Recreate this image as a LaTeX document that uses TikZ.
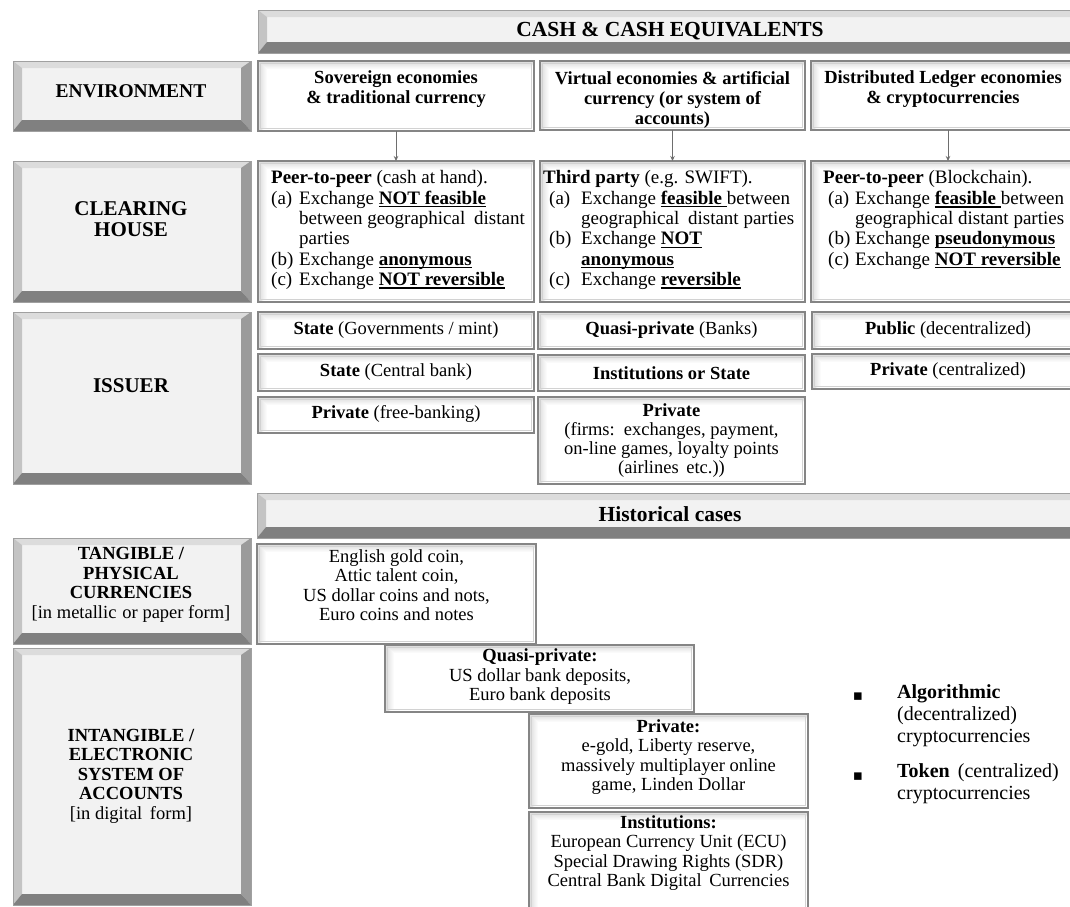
\documentclass[tikz,border=0pt]{standalone}
\usepackage{fontspec}
\setmainfont{Liberation Serif}
\newfontfamily\symfont{DejaVu Sans}
\usetikzlibrary{arrows.meta}
\definecolor{bface}{HTML}{F2F2F2}
\definecolor{bline}{HTML}{A0A0A0}
\definecolor{btop}{HTML}{DCDCDC}
\definecolor{bleft}{HTML}{C4C4C4}
\definecolor{bright}{HTML}{9B9B9B}
\definecolor{bbot}{HTML}{808080}
\definecolor{wline}{HTML}{858585}
\definecolor{wsh}{HTML}{DADADA}
\definecolor{arrgray}{HTML}{6E6E6E}
\newcommand\fcash{\fontsize{21.5pt}{21pt}\selectfont\bfseries}
\newcommand\fenv{\fontsize{19.5pt}{21pt}\selectfont\bfseries}
\newcommand\fttl{\fontsize{21pt}{21.5pt}\selectfont\bfseries}
\newcommand\fside{\fontsize{18.5pt}{19.5pt}\selectfont\bfseries\lineskiplimit=-100pt\lineskip=0pt}
\newcommand\fhead{\fontsize{18.5pt}{20pt}\selectfont\bfseries\lineskiplimit=-100pt\lineskip=0pt}
\newcommand\fch{\fontsize{19pt}{20.3pt}\selectfont\lineskiplimit=-100pt\lineskip=0pt}
\newcommand\fbody{\fontsize{18.5pt}{19.5pt}\selectfont\lineskiplimit=-100pt\lineskip=0pt}
\newcommand\ffirm{\fontsize{18.5pt}{19pt}\selectfont\lineskiplimit=-100pt\lineskip=0pt}
\newcommand\fbul{\fontsize{20pt}{22pt}\selectfont\lineskiplimit=-100pt\lineskip=0pt}
\newcommand\bul[1]{\setbox0\hbox{\textbf{#1}}\rlap{\rule[-3.3pt]{\wd0}{1.4pt}}\box0}
\newcommand\lab[3][0pt]{\hspace*{#1}\makebox[#2][l]{#3}}
\newcommand\hng[1]{\hspace*{#1}}
\newcommand\bx[6][]{\node[#1, minimum width={(#4-#2)*1pt}, minimum height={(#5-#3)*1pt}] (#6) at ({(#2+#4)/2},{(#3+#5)/2}) {};}
\tikzset{
  gbev/.style={inner sep=0pt, outer sep=0pt, fill=bface, draw=bline, line width=0.8pt,
    path picture={
      \path (path picture bounding box.north west) coordinate (pa)
            (path picture bounding box.north east) coordinate (pb)
            (path picture bounding box.south east) coordinate (pc)
            (path picture bounding box.south west) coordinate (pd);
      \fill[btop] (pa) -- (pb) -- ([shift={(-10pt,-7pt)}]pb) -- ([shift={(9pt,-7pt)}]pa) -- cycle;
      \fill[bleft] (pa) -- ([shift={(9pt,-7pt)}]pa) -- ([shift={(9pt,11pt)}]pd) -- (pd) -- cycle;
      \fill[bright] (pb) -- (pc) -- ([shift={(-10pt,11pt)}]pc) -- ([shift={(-10pt,-7pt)}]pb) -- cycle;
      \fill[bbot] (pd) -- (pc) -- ([shift={(-10pt,11pt)}]pc) -- ([shift={(9pt,11pt)}]pd) -- cycle;
    }},
  wbox/.style={inner sep=0pt, outer sep=0pt, fill=white, draw=wline, line width=1.5pt,
    path picture={
      \path (path picture bounding box.north west) coordinate (pa)
            (path picture bounding box.north east) coordinate (pb)
            (path picture bounding box.south east) coordinate (pc)
            (path picture bounding box.south west) coordinate (pd);
      \shade[top color=wsh, bottom color=white] (pa) -- (pb) -- ([shift={(-3pt,-8pt)}]pb) -- ([shift={(9pt,-8pt)}]pa) -- cycle;
      \shade[left color=wsh, right color=white] (pa) -- ([shift={(9pt,-8pt)}]pa) -- ([shift={(9pt,3pt)}]pd) -- (pd) -- cycle;
      \draw[gray!35, line width=0.6pt] ([shift={(2.3pt,-2.3pt)}]pa) rectangle ([shift={(-2.3pt,2.3pt)}]pc);
    }},
  arr/.style={draw=arrgray, line width=1pt, -{Stealth[length=5pt,width=4.5pt]}},
  ttl/.style={inner sep=0pt, align=center, font=\fttl},
  side/.style={inner sep=0pt, align=center, font=\fside},
  hd/.style={inner sep=0pt, align=center, font=\fhead},
  cht/.style={inner sep=0pt, align=left, font=\fch, anchor=west},
  it/.style={inner sep=0pt, align=center, font=\fbody},
  bt/.style={inner sep=0pt, align=left, font=\fbul, anchor=west},
  bm/.style={inner sep=0pt, font=\symfont\fontsize{15pt}{15pt}\selectfont}
}
\begin{document}
\begin{tikzpicture}[x=1pt, y=-1pt]
\useasboundingbox (0,0) rectangle (1070,906);
\clip (0,0) rectangle (1070,906);
\fill[white] (0,0) rectangle (1070,906);

% gray bevel boxes
\bx[gbev]{258}{10}{1095}{53}{cash}
\bx[gbev]{13}{61}{251}{131}{env}
\bx[gbev]{13}{161}{251}{302}{ch}
\bx[gbev]{13}{312}{251}{484}{iss}
\bx[gbev]{257}{493}{1095}{538}{hist}
\bx[gbev]{13}{538}{251}{644}{tan}
\bx[gbev]{13}{648}{251}{905}{intan}

% white boxes
\bx[wbox]{258}{61}{534}{131}{sov}
\bx[wbox]{540}{61}{805}{130}{virt}
\bx[wbox]{811}{61}{1085}{130}{dist}
\bx[wbox]{258}{161}{534}{302}{peer}
\bx[wbox]{540}{161}{805}{302}{third}
\bx[wbox]{811}{161}{1085}{302}{block}
\bx[wbox]{258}{312}{534}{349}{sgov}
\bx[wbox]{258}{354}{534}{391}{scb}
\bx[wbox]{258}{397}{534}{433}{pfree}
\bx[wbox]{538}{312}{805}{349}{qbank}
\bx[wbox]{538}{355}{805}{391}{inst}
\bx[wbox]{538}{397}{805}{484}{pfirm}
\bx[wbox]{812}{312}{1085}{349}{pub}
\bx[wbox]{812}{354}{1085}{389}{pcen}
\bx[wbox]{257}{544}{536}{644}{eng}
\bx[wbox]{385}{645}{694}{712}{quasi}
\bx[wbox]{529}{714}{808}{808}{priv}
\bx[wbox]{529}{812}{808}{930}{instn}

% connectors
\draw[arr] (sov) -- (peer);
\draw[arr] (virt) -- (third);
\draw[arr] (dist) -- (block);

% titles
\node[ttl, font=\fcash] (cashT) at (670,31) {CASH \& CASH EQUIVALENTS};
\node[ttl, font=\fenv] (envT) at (131,91) {ENVIRONMENT};
\node[ttl] (chT) at (131,219) {CLEARING\\HOUSE};
\node[ttl] (issT) at (131,386) {ISSUER};
\node[ttl, font=\fcash] (histT) at (670,514) {Historical cases};
\node[side] (tanT) at (131,585) {TANGIBLE /\\PHYSICAL\\CURRENCIES\\{\mdseries [in metallic\hspace{6pt}or paper form]}};
\node[side] (intanT) at (131,776) {INTANGIBLE /\\ELECTRONIC\\SYSTEM OF\\ACCOUNTS\\{\mdseries [in digital\hspace{3pt} form]}};

% environment headers
\node[hd] (sovT) at (396,89) {Sovereign economies\\\& traditional currency};
\node[hd] (virtT) at (672.5,100) {Virtual economies \& artificial\\currency (or system of\\accounts)};
\node[hd] (distT) at (943,89) {Distributed Ledger economies\\\& cryptocurrencies};

% clearing house texts
\node[cht] (peerT) at (271,230) {\textbf{Peer-to-peer} (cash at hand).\\
\lab{28pt}{(a)}Exchange \bul{NOT feasible}\\
\hng{28pt}between geographical\hspace{4pt} distant\\
\hng{28pt}parties\\
\lab{28pt}{(b)}Exchange \bul{anonymous}\\
\lab{28pt}{(c)}Exchange \bul{NOT reversible}};
\node[cht] (thirdT) at (543,230) {\textbf{Third party} (e.g. SWIFT).\\
\lab[6pt]{32pt}{(a)}Exchange \bul{feasible }between\\
\hng{38pt}geographical\hspace{4pt} distant parties\\
\lab[6pt]{32pt}{(b)}Exchange \bul{NOT}\\
\hng{38pt}\bul{anonymous}\\
\lab[6pt]{32pt}{(c)}Exchange \bul{reversible}};
\node[cht] (blockT) at (823,220) {\textbf{Peer-to-peer} (Blockchain).\\
\lab[5pt]{27pt}{(a)}Exchange \bul{feasible }between\\
\hng{32pt}geographical distant parties\\
\lab[5pt]{27pt}{(b)}Exchange \bul{pseudonymous}\\
\lab[5pt]{27pt}{(c)}Exchange \bul{NOT reversible}};

% issuer texts
\node[it] (sgovT) at (396,330) {\textbf{State} (Governments / mint)};
\node[it] (scbT) at (396,372) {\textbf{State} (Central bank)};
\node[it] (pfreeT) at (396,414) {\textbf{Private} (free-banking)};
\node[it] (qbankT) at (671.5,330) {\textbf{Quasi-private} (Banks)};
\node[it] (instT) at (671.5,373) {\textbf{Institutions or State}};
\node[it, font=\ffirm] (pfirmT) at (671.5,441) {\textbf{Private}\\(firms:\hspace{3pt} exchanges, payment,\\on-line games, loyalty points\\(airlines\hspace{3pt} etc.))};
\node[it] (pubT) at (948,330) {\textbf{Public} (decentralized)};
\node[it] (pcenT) at (948,371) {\textbf{Private} (centralized)};

% historical cases
\node[it] (engT) at (396.5,585) {English gold coin,\\Attic talent coin,\\US dollar coins and nots,\\Euro coins and notes};
\node[it] (quasiT) at (540,677) {\textbf{Quasi-private:}\\US dollar bank deposits,\\Euro bank deposits};
\node[it] (privT) at (668.5,757) {\textbf{Private:}\\e-gold, Liberty reserve,\\massively multiplayer online\\game, Linden Dollar};
\node[it] (instnT) at (668.5,853) {\textbf{Institutions:}\\European Currency Unit (ECU)\\Special Drawing Rights (SDR)\\Central Bank Digital\hspace{3pt} Currencies};

% bullets
\node[bm] (b1) at (858,697) {▪};
\node[bt] (algT) at (897,716) {\textbf{Algorithmic}\\(decentralized)\\cryptocurrencies};
\node[bm] (b2) at (858,777) {▪};
\node[bt] (tokT) at (897,784) {\textbf{Token}\hspace{3pt} (centralized)\\cryptocurrencies};
\end{tikzpicture}
\end{document}
